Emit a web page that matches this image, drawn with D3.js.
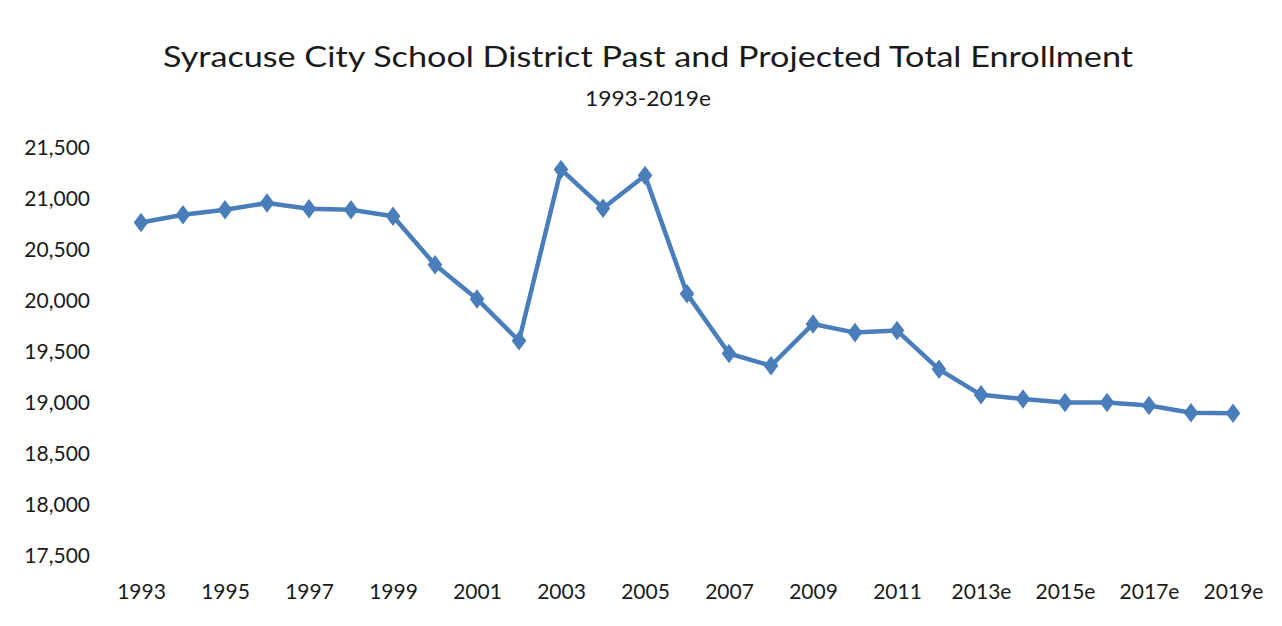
<!DOCTYPE html>
<html><head><meta charset="utf-8">
<script src="https://cdn.jsdelivr.net/npm/d3@7"></script>
<style>
html,body{margin:0;padding:0;background:#fff;}
text{font-family:Lato,"Open Sans",sans-serif;fill:#1a1a1a;}
</style></head>
<body><svg id="chart" width="1282" height="626"></svg>
<script>
const categories = ["1993","1994","1995","1996","1997","1998","1999","2000","2001","2002","2003","2004","2005","2006","2007","2008","2009","2010","2011","2012","2013e","2014e","2015e","2016e","2017e","2018e","2019e"];
const enrollment = [20770,20845,20895,20960,20905,20895,20830,20355,20020,19610,21290,20910,21230,20070,19485,19365,19775,19690,19710,19330,19080,19040,19005,19005,18975,18905,18900];
const yTicks = [17500,18000,18500,19000,19500,20000,20500,21000,21500];
const xTickLabels = ["1993","1995","1997","1999","2001","2003","2005","2007","2009","2011","2013e","2015e","2017e","2019e"];
const title = "Syracuse City School District Past and Projected Total Enrollment";
const subtitle = "1993-2019e";

const svg = d3.select("#chart");
const x = d3.scalePoint().domain(categories).range([141, 1233]).padding(0);
const y = d3.scaleLinear().domain([17500, 21500]).range([556, 148]);

svg.append("text").attr("x", 648).attr("y", 67).attr("text-anchor","middle")
  .attr("font-size", 29).attr("textLength", 970).attr("lengthAdjust","spacingAndGlyphs").text(title);
svg.append("text").attr("x", 648).attr("y", 106).attr("text-anchor","middle")
  .attr("font-size", 22).attr("textLength", 126).attr("lengthAdjust","spacingAndGlyphs").text(subtitle);

const fmt = d3.format(",");
const yAxis = svg.append("g").attr("transform","translate(90,0)")
  .call(d3.axisLeft(y).tickValues(yTicks).tickSize(0).tickPadding(0).tickFormat(fmt));
yAxis.select(".domain").remove();
yAxis.selectAll("text").attr("font-size", 21).attr("font-family","Lato,'Open Sans',sans-serif").attr("fill","#1a1a1a");

const xAxis = svg.append("g").attr("transform","translate(0,584)")
  .call(d3.axisBottom(x).tickValues(xTickLabels).tickSize(0).tickPadding(0));
xAxis.select(".domain").remove();
xAxis.selectAll("text").attr("font-size", 21).attr("font-family","Lato,'Open Sans',sans-serif").attr("fill","#1a1a1a").attr("dy","0.71em");

const color = "#4a7ebb";
const line = d3.line().x((d,i)=>x(categories[i])).y(d=>y(d));
svg.append("path").datum(enrollment).attr("d", line).attr("fill","none")
  .attr("stroke", color).attr("stroke-width", 4.5).attr("stroke-linejoin","round");

const sym = d3.symbol().type(d3.symbolDiamond).size(110);
svg.append("g").selectAll("path").data(enrollment).join("path")
  .attr("transform",(d,i)=>`translate(${x(categories[i])},${y(d)}) scale(1.3,1)`)
  .attr("d", sym).attr("fill", color);
</script></body></html>
